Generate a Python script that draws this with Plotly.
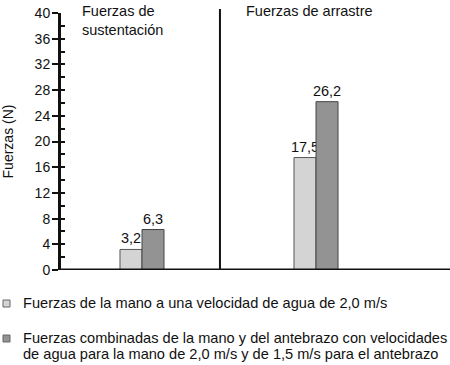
import plotly.graph_objects as go

categories = ["Fuerzas de sustentación", "Fuerzas de arrastre"]
mano = [3.2, 17.5]
combinadas = [6.3, 26.2]
series_names = [
    "Fuerzas de la mano a una velocidad de agua de 2,0 m/s",
    "Fuerzas combinadas de la mano y del antebrazo con velocidades",
    "de agua para la mano de 2,0 m/s y de 1,5 m/s para el antebrazo",
]
y_ticks = list(range(0, 41, 4))

FONT = "Liberation Sans, Arial, Helvetica, sans-serif"
COL_LIGHT = "#d4d4d4"
COL_DARK = "#939393"

# plot-area geometry (pixels)
L, T, W, H = 61, 13, 389, 257
def px(xp):
    return (xp - L) / W
def py(yp):
    return (T + H - yp) / H

xidx = list(range(len(categories)))

fig = go.Figure()
fig.add_trace(go.Bar(
    x=xidx, y=mano, name=series_names[0],
    marker=dict(color=COL_LIGHT, line=dict(color="#555555", width=1)),
    texttemplate="%{y:.1f}", textposition="outside", constraintext="none",
    textfont=dict(size=14.5, color="#111"), cliponaxis=False,
))
fig.add_trace(go.Bar(
    x=xidx, y=combinadas, name=series_names[1],
    marker=dict(color=COL_DARK, line=dict(color="#444444", width=1)),
    texttemplate="%{y:.1f}", textposition="outside", constraintext="none",
    textfont=dict(size=14.5, color="#111"), cliponaxis=False,
))
# invisible trace on y2 for inner ticks
fig.add_trace(go.Scatter(x=[0], y=[0], yaxis="y2", mode="markers",
                         marker=dict(opacity=0), showlegend=False, hoverinfo="skip"))

fig.update_layout(
    width=450, height=365,
    margin=dict(l=L, r=450 - L - W, t=T, b=365 - T - H, autoexpand=False),
    paper_bgcolor="white", plot_bgcolor="white",
    separators=",.",
    font=dict(family=FONT, size=14.5, color="#111"),
    barmode="group", bargap=0.747, bargroupgap=0,
    showlegend=False,
    xaxis=dict(range=[-0.4655, 1.77], showticklabels=False, ticks="",
               showgrid=False, zeroline=False, showline=False),
    yaxis=dict(range=[0, 40], tickvals=y_ticks, ticks="outside", ticklen=6,
               tickwidth=1.5, tickcolor="#111", showgrid=False, zeroline=False,
               showline=True, linewidth=3, linecolor="#111",
               ticklabelstandoff=-1,
               title=dict(text="Fuerzas (N)", standoff=18, font=dict(size=14)),
               tickfont=dict(size=14)),
    yaxis2=dict(range=[0, 40], overlaying="y", side="left", dtick=2, tick0=0,
                ticks="inside", ticklen=4, tickwidth=1.5, tickcolor="#111",
                showticklabels=False, showgrid=False, zeroline=False, showline=False),
)

# baseline and divider
fig.add_shape(type="line", xref="paper", yref="y", x0=0, x1=1, y0=0, y1=0,
              line=dict(color="#111", width=3))
fig.add_shape(type="line", xref="x", yref="paper", x0=0.448, x1=0.448, y0=0, y1=py(9),
              line=dict(color="#111", width=2))

fig.add_annotation(text="Fuerzas de<br>sustentación", xref="paper", yref="paper",
                   x=px(80), y=py(1), xanchor="left", yanchor="top", showarrow=False,
                   align="left", font=dict(size=14.5))
fig.add_annotation(text="Fuerzas de arrastre", xref="paper", yref="paper",
                   x=px(244), y=py(1), xanchor="left", yanchor="top", showarrow=False,
                   align="left", font=dict(size=14.5))

# manual legend
for (y0, y1), col in [((300, 307), COL_LIGHT), ((335, 342), COL_DARK)]:
    fig.add_shape(type="rect", xref="paper", yref="paper",
                  x0=px(3), x1=px(10), y0=py(y1), y1=py(y0),
                  fillcolor=col, line=dict(color="#666666", width=1))
for text, yc in [(series_names[0], 302.5), (series_names[1], 338), (series_names[2], 353.5)]:
    fig.add_annotation(text=text, xref="paper", yref="paper",
                       x=px(21), y=py(yc), xanchor="left", yanchor="middle",
                       showarrow=False, align="left", font=dict(size=14.6))

fig.write_html("out.html",
               config={"displayModeBar": False},
               post_script="document.body.style.margin='0';document.body.style.overflow='hidden';")
